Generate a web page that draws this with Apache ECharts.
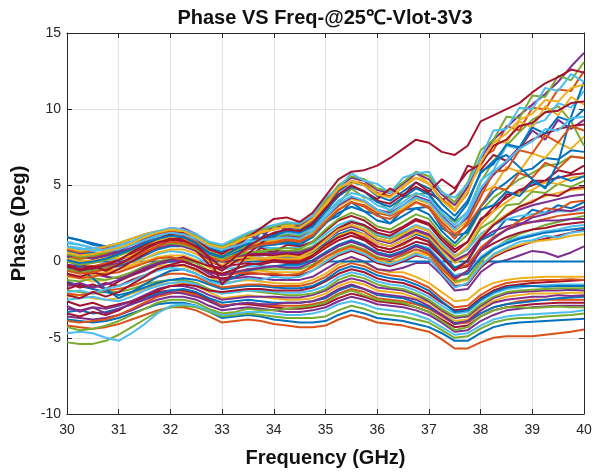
<!DOCTYPE html>
<html>
<head>
<meta charset="utf-8">
<script src="https://cdn.jsdelivr.net/npm/echarts@6/dist/echarts.min.js"></script>
<style>
  html, body { margin: 0; padding: 0; background: #ffffff; }
  #chart { width: 602px; height: 473px; }
</style>
</head>
<body>
<div id="chart"></div>
<script>
// Sweep frequencies (GHz), one sample every 0.25 GHz
const freqGHz = [30, 30.25, 30.5, 30.75, 31, 31.25, 31.5, 31.75, 32, 32.25, 32.5, 32.75, 33, 33.25, 33.5, 33.75, 34, 34.25, 34.5, 34.75, 35, 35.25, 35.5, 35.75, 36, 36.25, 36.5, 36.75, 37, 37.25, 37.5, 37.75, 38, 38.25, 38.5, 38.75, 39, 39.25, 39.5, 39.75, 40];

const xTicks = [30, 31, 32, 33, 34, 35, 36, 37, 38, 39, 40];
const yTicks = [-10, -5, 0, 5, 10, 15];

// Phase (deg) per channel, lower band
const lowA0 = [-4.2,-4.3,-4.4,-4.3,-4.1,-3.8,-3.5,-3.2,-3.0,-3.0,-3.2,-3.6,-4.0,-3.9,-3.8,-3.9,-4.1,-4.2,-4.3,-4.3,-4.2,-3.8,-3.5,-3.7,-4.0,-4.1,-4.2,-4.4,-4.6,-5.1,-5.7,-5.7,-5.3,-5.0,-4.9,-4.9,-4.9,-4.8,-4.7,-4.6,-4.45];
const lowA1 = [-3.8,-3.9,-4.0,-3.9,-3.7,-3.4,-3.1,-2.8,-2.7,-2.7,-2.9,-3.3,-3.7,-3.6,-3.5,-3.6,-3.8,-3.9,-4.0,-4.0,-3.9,-3.5,-3.2,-3.4,-3.7,-3.8,-3.9,-4.1,-4.3,-4.7,-5.2,-5.2,-4.7,-4.3,-4.1,-4.0,-3.95,-3.9,-3.85,-3.8,-3.75];
const lowA2 = [-5.3,-5.4,-5.4,-5.2,-4.8,-4.3,-3.8,-3.3,-3.0,-2.9,-3.0,-3.3,-3.6,-3.5,-3.4,-3.5,-3.6,-3.7,-3.7,-3.7,-3.6,-3.2,-2.9,-3.1,-3.4,-3.5,-3.6,-3.8,-4.0,-4.5,-5.0,-4.9,-4.4,-4.0,-3.8,-3.7,-3.7,-3.6,-3.55,-3.5,-3.4];
const lowA3 = [-4.7,-4.6,-4.7,-5.0,-5.2,-4.7,-4.1,-3.4,-2.9,-2.8,-2.9,-3.2,-3.5,-3.4,-3.3,-3.3,-3.4,-3.5,-3.5,-3.4,-3.2,-2.8,-2.6,-2.8,-3.1,-3.2,-3.3,-3.5,-3.8,-4.3,-4.8,-4.7,-4.2,-3.8,-3.6,-3.5,-3.45,-3.4,-3.35,-3.3,-3.2];
const lowA4 = [-3.6,-3.7,-3.8,-3.7,-3.5,-3.2,-2.8,-2.5,-2.3,-2.3,-2.5,-2.9,-3.2,-3.1,-3.0,-3.1,-3.2,-3.3,-3.3,-3.2,-3.0,-2.6,-2.3,-2.5,-2.8,-2.9,-3.0,-3.2,-3.5,-4.0,-4.6,-4.5,-3.9,-3.5,-3.2,-3.1,-3.0,-2.95,-2.9,-2.9,-2.9];
const lowA5 = [-2.6,-2.9,-2.7,-3.0,-2.8,-2.6,-2.3,-2.0,-1.9,-1.9,-2.1,-2.5,-2.9,-2.8,-2.8,-2.9,-3.0,-3.1,-3.1,-3.0,-2.8,-2.4,-2.1,-2.3,-2.6,-2.7,-2.8,-3.0,-3.3,-3.8,-4.3,-4.2,-3.6,-3.2,-3.0,-2.9,-2.8,-2.75,-2.7,-2.7,-2.7];
const lowA6 = [-3.9,-4.0,-3.9,-3.8,-3.5,-3.1,-2.7,-2.3,-2.1,-2.0,-2.2,-2.6,-2.9,-2.8,-2.7,-2.8,-2.9,-2.9,-2.9,-2.8,-2.6,-2.1,-1.8,-2.0,-2.4,-2.5,-2.6,-2.8,-3.1,-3.6,-4.1,-4.0,-3.4,-3.0,-2.8,-2.6,-2.5,-2.5,-2.5,-2.5,-2.5];
const lowA7 = [-3.3,-3.2,-3.4,-3.3,-3.1,-2.8,-2.4,-2.1,-1.9,-1.8,-2.0,-2.4,-2.7,-2.6,-2.5,-2.6,-2.7,-2.7,-2.7,-2.6,-2.4,-1.9,-1.6,-1.8,-2.2,-2.3,-2.4,-2.7,-3.0,-3.5,-4.0,-3.9,-3.4,-3.0,-2.8,-2.7,-2.6,-2.5,-2.4,-2.35,-2.3];
const lowA8 = [-2.3,-2.2,-2.4,-2.5,-2.4,-2.1,-1.8,-1.5,-1.4,-1.4,-1.6,-2.0,-2.4,-2.3,-2.2,-2.3,-2.4,-2.5,-2.5,-2.4,-2.1,-1.6,-1.3,-1.5,-1.9,-2.0,-2.1,-2.4,-2.7,-3.3,-3.9,-3.8,-3.0,-2.6,-2.3,-2.2,-2.1,-2.1,-2.1,-2.05,-2.05];
const lowA9 = [-3.1,-3.2,-3.0,-3.1,-2.9,-2.6,-2.2,-1.8,-1.6,-1.6,-1.8,-2.2,-2.5,-2.4,-2.3,-2.3,-2.3,-2.35,-2.35,-2.2,-1.9,-1.4,-1.1,-1.3,-1.7,-1.8,-1.9,-2.2,-2.6,-3.2,-3.7,-3.6,-2.9,-2.4,-2.1,-2.0,-1.95,-1.9,-1.9,-1.85,-1.9];
const lowA10 = [-1.9,-2.0,-2.1,-2.0,-2.0,-1.8,-1.5,-1.3,-1.2,-1.2,-1.4,-1.8,-2.1,-2.0,-1.9,-2.0,-2.1,-2.2,-2.2,-2.1,-1.8,-1.2,-0.9,-1.1,-1.5,-1.7,-1.8,-2.1,-2.5,-3.1,-3.6,-3.5,-2.8,-2.3,-2.0,-1.9,-1.85,-1.8,-1.75,-1.75,-1.75];
const lowA11 = [-2.5,-2.4,-2.3,-2.5,-2.6,-2.3,-1.9,-1.6,-1.4,-1.3,-1.5,-1.9,-2.1,-2.0,-1.9,-1.9,-2.0,-2.05,-2.05,-1.9,-1.6,-1.0,-0.7,-0.9,-1.3,-1.5,-1.6,-1.9,-2.3,-2.9,-3.4,-3.3,-2.6,-2.1,-1.8,-1.7,-1.6,-1.55,-1.5,-1.5,-1.5];
const lowA12 = [-3.4,-3.6,-3.3,-3.5,-3.2,-2.7,-2.3,-1.9,-1.6,-1.5,-1.6,-1.9,-2.0,-1.9,-1.8,-1.8,-1.9,-1.9,-1.9,-1.7,-1.3,-0.8,-0.5,-0.7,-1.1,-1.3,-1.4,-1.7,-2.1,-2.7,-3.2,-3.1,-2.4,-1.9,-1.6,-1.5,-1.4,-1.35,-1.3,-1.25,-1.2];
const lowA13 = [-1.3,-1.6,-1.8,-2.0,-2.2,-2.0,-1.7,-1.4,-1.2,-1.1,-1.2,-1.5,-1.8,-1.7,-1.6,-1.6,-1.7,-1.75,-1.75,-1.6,-1.2,-0.6,-0.3,-0.5,-0.9,-1.1,-1.2,-1.5,-1.9,-2.6,-3.3,-3.2,-2.5,-2.0,-1.7,-1.6,-1.6,-1.65,-1.6,-1.6,-1.6];
const lowA14 = [-2.1,-2.2,-2.0,-1.9,-1.8,-1.6,-1.3,-1.0,-0.8,-0.8,-1.0,-1.4,-1.7,-1.6,-1.5,-1.5,-1.6,-1.6,-1.6,-1.4,-1.0,-0.4,-0.1,-0.3,-0.7,-0.9,-1.0,-1.3,-1.7,-2.4,-3.0,-2.9,-2.2,-1.7,-1.4,-1.3,-1.25,-1.2,-1.2,-1.15,-1.2];
const lowA15 = [-1.0,-1.1,-1.3,-1.2,-1.0,-0.8,-0.5,-0.3,-0.2,-0.3,-0.6,-1.0,-1.4,-1.3,-1.2,-1.3,-1.4,-1.45,-1.45,-1.2,-0.8,-0.2,0.1,-0.1,-0.5,-0.7,-0.7,-1.0,-1.4,-2.0,-2.6,-2.5,-1.8,-1.4,-1.2,-1.1,-1.05,-1.0,-1.0,-1.0,-1.0];
const lowA16 = [-2.9,-3.3,-3.0,-3.4,-3.1,-2.8,-2.5,-2.2,-2.0,-2.1,-2.3,-2.6,-3.0,-2.8,-2.7,-2.8,-2.8,-2.7,-2.7,-2.6,-2.3,-1.8,-1.5,-1.8,-2.1,-2.2,-2.3,-2.5,-2.9,-3.5,-4.1,-3.9,-3.2,-2.7,-2.5,-2.4,-2.3,-2.3,-2.2,-2.25,-2.2];
const lowA17 = [-4.3,-4.5,-4.4,-4.2,-3.9,-3.5,-3.1,-2.7,-2.5,-2.5,-2.7,-3.1,-3.4,-3.3,-3.1,-3.2,-3.2,-3.1,-3.0,-2.9,-2.7,-2.2,-1.9,-2.2,-2.5,-2.6,-2.7,-3.0,-3.3,-3.9,-4.5,-4.3,-3.6,-3.2,-3.0,-3.0,-3.05,-3.0,-2.95,-3.0,-3.0];

// Phase (deg) per channel, middle band
const midM0 = [-0.5,-0.7,-0.8,-1.0,-1.1,-0.9,-0.6,-0.2,0.0,0.0,-0.3,-0.8,-1.2,-1.1,-1.0,-1.1,-1.2,-1.2,-1.2,-1.0,-0.5,0.0,0.3,0.0,-0.5,-0.6,-0.4,-0.1,-0.1,-0.9,-1.9,-1.8,-0.7,-0.1,0.1,0.4,0.7,0.6,0.3,0.6,1.0];
const midM1 = [0,0,0,0,0,0,0,0,0,0,0,0,0,0,0,0,0,0,0,0,0,0,0,0,0,0,0,0,0,0,0,0,0,0,0,0,0,0,0,0,0];
const midM2 = [-1.8,-1.5,-1.7,-1.4,-1.6,-1.2,-0.9,-0.5,-0.3,-0.2,-0.5,-1.0,-1.1,-1.0,-0.8,-0.8,-0.9,-0.9,-0.9,-0.6,-0.1,0.4,0.7,0.4,-0.1,-0.3,0.0,0.4,0.2,-0.7,-1.6,-1.5,-0.4,0.3,0.7,1.0,1.3,1.5,1.7,1.9,2.1];
const midM3 = [-0.2,-0.4,-0.5,-0.6,-0.5,-0.3,0.0,0.3,0.4,0.4,0.1,-0.4,-0.8,-0.7,-0.6,-0.6,-0.7,-0.7,-0.7,-0.4,0.1,0.6,0.9,0.6,0.1,-0.1,0.2,0.6,0.4,-0.5,-1.4,-1.2,-0.2,0.4,0.8,1.1,1.3,1.4,1.5,1.7,1.8];
const midM4 = [-1.2,-1.3,-1.1,-1.2,-1.0,-0.7,-0.3,0.0,0.2,0.2,-0.1,-0.6,-0.8,-0.7,-0.5,-0.5,-0.5,-0.5,-0.5,-0.2,0.3,0.8,1.1,0.8,0.3,0.1,0.4,0.8,0.6,-0.3,-1.3,-1.1,0.0,0.8,1.4,1.8,2.1,2.4,2.6,2.8,3.0];
const midM5 = [0.6,0.4,0.3,0.2,0.1,0.0,0.2,0.5,0.7,0.6,0.3,-0.2,-0.5,-0.4,-0.3,-0.3,-0.3,-0.3,-0.3,0.0,0.6,1.1,1.4,1.1,0.6,0.4,0.7,1.1,0.9,0.0,-0.9,-0.7,0.3,0.9,1.3,1.6,1.8,2.0,2.1,2.3,2.4];
const midM6 = [-1.4,-1.7,-1.5,-1.8,-1.3,-0.9,-0.5,-0.1,0.1,0.3,0.0,-0.3,-0.4,-0.2,-0.1,-0.2,0.0,-0.1,-0.1,0.3,0.9,1.4,1.7,1.4,0.8,0.6,0.9,1.3,1.1,0.3,-0.5,-0.3,0.7,1.2,1.6,1.9,2.1,2.2,2.4,2.5,2.6];
const midM7 = [0.0,-0.2,-0.3,-0.1,0.1,0.4,0.7,1.0,1.2,1.1,0.8,0.3,0.0,0.1,0.2,0.1,0.1,0.1,0.1,0.4,1.0,1.6,1.9,1.6,1.0,0.8,1.1,1.6,1.3,0.4,-0.5,-0.2,0.9,1.6,2.1,2.4,2.6,2.8,3.0,3.1,3.2];
const midM8 = [-0.4,-0.5,-0.6,-0.4,-0.3,0.0,0.4,0.8,1.0,1.0,0.7,0.2,0.0,0.1,0.3,0.2,0.3,0.3,0.3,0.6,1.2,1.8,2.1,1.8,1.2,1.0,1.4,1.8,1.5,0.5,-0.4,0.0,1.4,1.8,2.8,2.7,3.4,3.2,3.7,3.5,3.9];
const midM9 = [0.9,0.8,0.6,0.5,0.6,0.8,1.1,1.4,1.5,1.4,1.0,0.4,0.2,0.3,0.4,0.4,0.5,0.5,0.5,0.8,1.4,2.0,2.3,2.0,1.4,1.2,1.6,2.0,1.7,0.8,0.0,0.4,1.6,2.4,3.0,3.4,3.7,3.9,4.1,4.3,4.4];
const midM10 = [0.3,0.1,0.0,0.2,0.4,0.7,1.0,1.3,1.5,1.4,1.1,0.6,0.4,0.5,0.6,0.6,0.7,0.7,0.7,1.0,1.6,2.2,2.6,2.3,1.7,1.5,1.9,2.3,2.0,1.1,0.3,0.8,2.2,2.7,3.7,3.8,4.6,4.5,5.1,4.9,5.3];
const midM11 = [1.2,1.1,0.9,0.8,0.9,1.1,1.4,1.7,1.8,1.7,1.4,0.9,0.7,0.8,0.8,0.9,0.9,0.9,0.9,1.2,1.8,2.4,2.7,2.4,1.8,1.6,2.0,2.4,2.1,1.2,0.4,0.8,1.8,2.4,2.8,3.0,3.1,3.2,3.3,3.3,3.4];
const midM12 = [-0.4,-0.2,-0.5,-0.3,0.1,0.5,0.9,1.3,1.5,1.3,0.8,0.0,-0.3,0.4,0.2,0.9,0.6,1.1,1.0,1.3,2.0,2.7,3.0,2.7,2.1,1.9,2.3,2.8,2.5,1.6,0.8,1.3,2.8,3.3,4.4,4.5,5.3,5.3,6.0,5.8,6.3];
const midM13 = [-0.8,-1.0,-0.9,-0.7,-0.5,-0.2,0.2,0.6,0.8,0.8,0.5,0.0,-0.2,0.0,0.1,0.2,0.2,0.2,0.2,0.5,1.1,1.7,2.0,1.8,1.2,1.0,1.4,1.9,1.6,0.7,-0.1,0.4,1.6,2.5,3.1,3.6,4.0,4.3,4.5,4.7,4.8];
const midM14 = [-0.2,-0.3,-0.4,-0.3,-0.1,0.2,0.6,0.9,1.1,1.0,0.7,0.2,0.1,0.3,0.5,0.5,0.6,0.6,0.6,0.9,1.5,2.1,2.4,2.1,1.5,1.3,1.7,2.1,1.8,0.9,0.1,0.5,1.5,2.0,2.3,2.5,2.6,2.7,2.7,2.8,2.8];
const midM15 = [1.0,0.8,0.9,0.7,0.6,0.8,1.1,1.3,1.4,1.2,0.7,-0.2,-0.6,0.0,0.4,0.5,0.4,0.5,0.4,0.8,1.5,2.2,2.6,2.4,1.9,1.7,2.2,2.7,2.4,1.4,0.6,1.3,2.7,3.6,4.2,4.7,5.0,5.3,5.5,5.7,5.8];
const midM16 = [0.2,-0.4,-1.1,-1.8,-2.4,-2.0,-1.5,-1.0,-0.6,-0.5,-0.8,-1.2,-1.4,-1.0,-0.6,-0.4,-0.3,-0.2,-0.2,0.1,0.6,1.1,1.4,1.1,0.6,0.4,0.7,1.1,0.8,-0.1,-1.0,-0.8,0.2,0.8,1.2,1.5,1.7,1.9,2.0,2.1,2.2];
const midM17 = [-2.0,-1.9,-2.1,-1.8,-1.6,-1.3,-0.9,-0.6,-0.4,-0.5,-0.8,-1.3,-1.5,-1.3,-1.1,-1.2,-1.0,-1.1,-1.0,-0.6,0.0,0.5,0.8,0.5,0.0,-0.2,0.1,0.5,0.2,-0.8,-1.7,-1.4,-0.3,0.5,0.9,1.3,1.4,1.7,1.6,1.9,2.0];
const midM18 = [-0.9,-1.1,-1.0,-0.8,-0.7,-0.4,-0.1,0.2,0.3,0.1,-0.3,-0.7,-0.9,-0.8,-0.7,-0.8,-0.8,-0.9,-0.8,-0.3,0.3,0.7,1.0,0.7,0.2,0.1,0.5,0.8,0.5,-0.5,-1.2,-0.6,0.8,1.6,2.1,2.7,3.0,3.5,3.4,3.9,4.0];
const midM19 = [-1.6,-1.4,-1.7,-1.5,-1.2,-0.8,-0.4,-0.1,0.1,0.0,-0.3,-0.7,-0.9,-0.7,-0.5,-0.4,-0.3,-0.4,-0.4,0.0,0.5,1.0,1.3,1.0,0.5,0.3,0.6,1.0,0.7,-0.2,-1.1,-0.6,0.7,1.5,2.1,2.4,2.9,3.1,3.4,3.3,3.6];
const midM20 = [-2.2,-2.4,-2.0,-2.3,-2.0,-1.5,-1.0,-0.5,-0.2,0.0,-0.3,-0.6,-0.8,-0.5,-0.2,-0.1,0.1,0.0,0.0,0.4,1.1,1.6,1.9,1.5,1.0,0.8,1.2,1.6,1.3,0.3,-0.6,0.1,1.5,2.4,3.0,3.6,3.9,4.4,4.3,4.8,4.9];
const midM21 = [0.6,0.4,0.5,0.3,0.2,0.4,0.8,1.1,1.3,1.2,0.9,0.4,0.1,0.2,0.3,0.2,0.3,0.4,0.3,0.7,1.4,2.1,2.4,2.1,1.5,1.3,1.8,2.3,2.0,1.0,0.3,1.0,2.4,3.3,3.9,4.5,4.7,5.2,5.1,5.5,5.6];
const midM22 = [-0.5,-0.7,-0.6,-0.4,-0.2,0.2,0.6,1.0,1.2,1.1,0.8,0.3,0.2,0.4,0.6,0.7,0.8,0.9,0.8,1.3,2.1,2.8,3.2,2.9,2.3,2.1,2.6,3.1,2.8,1.7,1.0,1.8,3.3,4.2,4.8,5.4,5.8,6.3,6.4,6.9,6.8];
const midM23 = [0.7,0.5,0.6,0.4,0.6,0.9,1.2,1.5,1.7,1.6,1.2,0.5,0.3,0.6,0.9,1.0,1.1,1.2,1.1,1.6,2.5,3.2,3.6,3.3,2.7,2.5,3.0,3.5,3.1,2.0,1.2,2.1,3.6,4.6,5.2,5.9,6.1,6.8,6.7,7.3,7.2];

// Phase (deg) per channel, upper band
const highH0 = [1.6,1.4,1.2,1.0,1.0,1.2,1.5,1.8,2.0,1.9,1.6,1.1,0.9,1.0,1.0,1.1,1.2,1.3,1.2,1.6,2.6,3.0,3.9,3.3,3.1,2.5,3.4,3.5,3.6,2.2,1.7,1.9,3.4,3.7,4.6,4.3,5.2,4.9,5.6,5.3,5.6];
const highH1 = [0.8,0.6,0.7,0.9,1.1,1.3,1.6,1.8,1.9,1.7,1.3,0.8,0.5,0.8,1.0,1.2,1.3,1.5,1.4,1.8,2.6,3.4,3.9,3.7,3.2,3.0,3.4,3.9,3.6,2.6,1.8,2.4,3.6,4.9,4.7,5.8,5.5,6.5,6.1,6.9,6.8];
const highH2 = [0.2,0.0,0.1,0.3,0.5,0.8,1.1,1.4,1.6,1.5,1.2,0.7,0.5,0.8,1.1,1.3,1.4,1.6,1.5,1.9,2.8,3.6,4.1,3.9,3.3,3.1,3.5,4.1,3.8,2.8,2.0,2.7,4.5,4.9,6.2,5.9,7.1,6.8,7.8,7.4,8.2];
const highH3 = [0.5,0.3,0.2,0.4,0.6,0.9,1.3,1.7,2.0,2.2,1.8,1.2,0.8,1.0,1.3,1.5,1.6,1.7,1.6,2.0,2.9,3.7,4.2,4.0,3.4,3.2,3.7,4.3,4.0,3.0,2.2,2.9,4.6,5.7,6.5,7.4,8.6,8.0,9.3,8.7,9.3];
const highH4 = [0.0,-0.2,-0.1,0.1,0.4,0.8,1.2,1.5,1.7,1.6,1.2,0.6,0.3,0.7,1.1,1.4,1.6,1.8,1.7,2.2,3.3,3.8,4.8,4.2,4.0,3.3,4.2,4.4,4.5,3.1,2.6,3.2,5.2,6.6,7.6,8.5,9.3,9.8,10.2,9.2,7.6];
const highH5 = [1.3,1.1,0.9,1.0,1.1,1.3,1.6,1.9,2.1,2.0,1.7,1.2,0.9,1.1,1.4,1.6,1.7,1.9,1.8,2.2,3.1,4.0,4.5,4.3,3.7,3.4,3.9,4.5,4.2,3.2,2.4,3.3,5.3,6.0,7.6,7.4,9.0,9.3,10.4,10.1,11.2];
const highH6 = [-0.8,-1.0,-0.7,-0.9,-0.5,0.0,0.5,1.0,1.4,1.6,1.2,0.2,-1.5,-0.6,0.5,1.2,1.8,2.1,2.0,2.4,3.4,4.3,4.9,4.6,4.0,3.8,4.4,4.9,4.5,4.0,4.6,6.3,6.0,7.0,6.6,7.5,8.0,8.4,8.7,8.9,9.0];
const highH7 = [1.6,1.4,1.1,1.0,1.2,1.5,1.8,2.0,2.1,1.9,1.5,0.9,0.6,1.3,1.1,1.9,1.6,2.3,2.1,2.6,3.6,4.6,5.2,5.0,4.3,4.0,4.6,5.2,4.8,3.8,3.0,4.0,5.8,6.6,7.0,6.2,5.4,4.8,6.5,9.5,11.8];
const highH8 = [0.4,0.2,0.3,0.5,0.8,1.2,1.5,1.8,2.0,1.9,1.6,1.1,0.9,1.2,1.6,1.9,2.1,2.3,2.2,2.7,3.7,4.7,5.3,5.1,4.5,4.3,4.9,5.5,5.1,4.1,3.4,4.5,6.8,7.3,8.9,8.6,10.1,10.0,11.3,11.2,12.5];
const highH9 = [0.9,0.7,0.8,1.0,1.2,1.5,1.8,2.0,2.1,2.0,1.7,1.2,1.0,1.3,1.7,2.0,2.2,2.4,2.3,2.8,3.6,5.0,5.1,5.4,4.4,4.6,4.8,5.8,5.1,4.5,3.4,4.9,6.2,7.9,7.8,9.2,8.8,10.2,9.6,10.8,10.3];
const highH10 = [0.3,0.5,0.2,0.4,0.7,1.1,1.5,1.9,2.2,2.1,1.7,1.0,0.9,0.8,1.7,1.5,2.4,2.1,2.4,2.9,3.9,4.9,5.5,5.3,4.7,4.5,5.1,5.8,5.4,4.4,3.7,4.9,6.8,8.0,8.8,9.6,10.3,11.0,11.8,12.8,13.7];
const highH11 = [0.5,0.3,0.4,0.6,0.9,1.2,1.6,1.9,2.1,2.0,1.7,1.2,1.0,1.4,1.8,2.1,2.3,2.5,2.45,3.0,4.0,5.0,5.6,5.4,4.8,4.6,5.2,5.9,5.6,4.6,3.9,5.2,7.3,8.0,9.5,9.4,10.9,10.8,12.2,11.9,13.1];
const highH12 = [1.0,0.9,0.7,0.8,1.0,1.3,1.7,2.0,2.2,2.1,1.8,1.3,1.1,1.5,1.9,2.2,2.4,2.6,2.5,3.0,4.2,4.8,5.8,5.3,5.1,4.5,5.5,5.8,5.9,4.5,4.2,5.1,6.8,8.6,8.7,10.1,10.0,11.4,11.2,12.3,11.8];
const highH13 = [-0.3,-0.6,-0.4,-0.2,0.1,0.6,1.1,1.5,1.8,1.9,1.5,0.8,0.5,1.0,1.6,2.2,2.8,2.9,2.6,3.2,4.3,5.4,5.9,6.0,6.3,6.8,7.4,8.0,7.8,7.2,7.0,7.6,9.2,9.6,10.0,10.4,11.1,11.7,12.1,12.6,12.4];
const highH14 = [0.1,-0.1,0.0,0.2,0.5,0.8,1.2,1.5,1.7,1.6,1.2,0.6,0.3,0.8,1.2,1.5,1.7,2.0,1.9,2.3,3.3,4.3,4.9,4.6,3.9,3.6,4.2,4.8,4.4,3.4,2.7,3.8,5.9,6.4,7.7,7.5,8.8,8.4,9.5,9.2,10.0];
const highH15 = [-0.6,-0.8,-0.7,-0.5,-0.2,0.2,0.6,1.0,1.3,1.2,0.9,0.3,0.0,0.4,0.8,1.1,1.2,1.4,1.3,1.7,2.6,3.4,3.9,3.6,3.0,2.8,3.3,3.9,3.5,2.4,1.5,2.6,4.2,5.9,6.0,7.3,7.1,8.3,7.8,8.9,8.6];
const highH16 = [1.0,0.8,0.9,0.7,0.8,1.1,1.4,1.7,1.9,1.8,1.5,1.0,0.8,1.0,1.3,1.4,1.5,1.6,1.5,2.0,2.9,3.8,4.3,4.0,3.4,3.1,3.7,4.2,3.9,2.9,2.1,3.1,4.8,5.9,6.6,7.4,7.9,8.7,8.6,9.4,9.5];
const highH17 = [-0.2,-0.5,-0.3,-0.6,-0.2,0.3,0.8,1.2,1.5,1.4,1.0,0.3,-0.4,0.3,1.0,1.5,1.9,2.1,2.0,2.5,3.5,4.4,5.0,4.6,4.1,4.8,4.3,5.2,4.6,5.4,4.8,5.9,6.4,7.6,8.0,8.9,9.1,9.8,9.9,10.4,10.5];
const highH18 = [0.6,0.4,0.5,0.7,0.9,1.2,1.6,1.9,2.1,2.0,1.6,1.1,0.9,1.2,1.6,1.9,2.1,2.3,2.2,2.8,3.8,4.8,5.3,5.0,4.4,4.2,4.9,5.5,5.1,4.0,3.3,4.6,6.5,7.8,8.4,9.3,9.7,10.6,10.5,11.4,11.6];

// MATLAB default line colour order
const palette = ['#0072BD', '#D95319', '#EDB120', '#7E2F8E', '#77AC30', '#4DBEEE', '#A2142F'];

// Each channel with the index of its colour in the palette (plot order)
const channels = [
  [lowA0, 1], [lowA1, 0], [lowA2, 4], [lowA3, 5], [lowA4, 3], [lowA5, 6], [lowA6, 1], [lowA7, 0],
  [lowA8, 2], [lowA9, 3], [lowA10, 4], [lowA11, 5], [lowA12, 6], [lowA13, 0], [lowA14, 1], [lowA15, 2],
  [lowA16, 3], [lowA17, 4],
  [midM0, 3], [midM1, 0], [midM2, 6], [midM3, 2], [midM4, 4], [midM5, 5], [midM6, 6], [midM7, 1],
  [midM8, 0], [midM9, 3], [midM10, 4], [midM11, 5], [midM12, 6], [midM13, 2], [midM14, 3], [midM15, 6], [midM16, 0],
  [midM17, 5], [midM18, 1], [midM19, 3], [midM20, 6], [midM21, 2], [midM22, 4], [midM23, 0],
  [highH0, 0], [highH1, 1], [highH2, 2], [highH3, 3], [highH4, 4], [highH5, 5], [highH6, 6], [highH7, 0],
  [highH8, 1], [highH9, 2], [highH10, 3], [highH11, 4], [highH12, 5], [highH13, 6], [highH14, 0], [highH15, 1],
  [highH16, 5], [highH17, 6], [highH18, 2]
];

const axisColor = '#262626';
const gridColor = '#e2e2e2';
const fontFam = '"Liberation Sans", Arial, Helvetica, sans-serif';

const series = channels.map(([vals, ci], k) => ({
  name: 'ch' + (k + 1),
  type: 'line',
  xAxisIndex: 0,
  yAxisIndex: 0,
  showSymbol: false,
  symbol: 'none',
  smooth: false,
  lineStyle: { width: 2, color: palette[ci] },
  itemStyle: { color: palette[ci] },
  emphasis: { disabled: true },
  data: freqGHz.map((f, i) => [f, vals[i]])
}));

const chart = echarts.init(document.getElementById('chart'), null, { renderer: 'canvas' });

const baseX = {
  type: 'value',
  min: xTicks[0],
  max: xTicks[xTicks.length - 1],
  interval: xTicks[1] - xTicks[0]
};
const baseY = {
  type: 'value',
  min: yTicks[0],
  max: yTicks[yTicks.length - 1],
  interval: yTicks[1] - yTicks[0]
};

chart.setOption({
  animation: false,
  backgroundColor: '#ffffff',
  grid: { left: 67, right: 18, top: 33, bottom: 53, containLabel: false },
  graphic: [{
    type: 'text',
    z: 100,
    style: {
      x: 325,
      y: 18,
      text: 'Phase VS Freq-@25℃-Vlot-3V3',
      font: 'bold 20px ' + fontFam,
      fill: '#111111',
      textAlign: 'center',
      textVerticalAlign: 'middle'
    }
  }],
  xAxis: [
    Object.assign({}, baseX, {
      position: 'bottom',
      axisLine: { show: true, onZero: false, lineStyle: { color: axisColor, width: 1 } },
      axisTick: { show: true, inside: true, length: 5, lineStyle: { color: axisColor } },
      axisLabel: { color: axisColor, fontSize: 14, fontFamily: fontFam, margin: 9 },
      splitLine: { show: true, lineStyle: { color: gridColor, width: 1 } },
      name: 'Frequency (GHz)',
      nameLocation: 'middle',
      nameGap: 34,
      nameTextStyle: { color: '#111111', fontSize: 20, fontWeight: 'bold', fontFamily: fontFam }
    }),
    Object.assign({}, baseX, {
      position: 'top',
      axisLine: { show: true, onZero: false, lineStyle: { color: axisColor, width: 1 } },
      axisTick: { show: true, inside: true, length: 5, lineStyle: { color: axisColor } },
      axisLabel: { show: false },
      splitLine: { show: false }
    })
  ],
  yAxis: [
    Object.assign({}, baseY, {
      position: 'left',
      axisLine: { show: true, onZero: false, lineStyle: { color: axisColor, width: 1 } },
      axisTick: { show: true, inside: true, length: 5, lineStyle: { color: axisColor } },
      axisLabel: { color: axisColor, fontSize: 14, fontFamily: fontFam, margin: 6 },
      splitLine: { show: true, lineStyle: { color: gridColor, width: 1 } },
      name: 'Phase (Deg)',
      nameLocation: 'middle',
      nameGap: 30,
      nameTextStyle: { color: '#111111', fontSize: 20, fontWeight: 'bold', fontFamily: fontFam }
    }),
    Object.assign({}, baseY, {
      position: 'right',
      axisLine: { show: true, onZero: false, lineStyle: { color: axisColor, width: 1 } },
      axisTick: { show: true, inside: true, length: 5, lineStyle: { color: axisColor } },
      axisLabel: { show: false },
      splitLine: { show: false }
    })
  ],
  series: series
});
</script>
</body>
</html>
